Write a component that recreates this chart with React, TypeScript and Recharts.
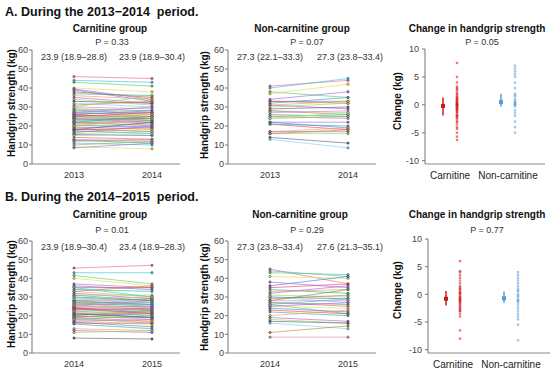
import React from "react";
import { LineChart, Line, ScatterChart, Scatter, XAxis, YAxis, ErrorBar } from "recharts";

const FONT = "'Liberation Sans', Arial, sans-serif";
const PALETTE = [
  "#f06a8a", "#3fc1d8", "#5cc96b", "#e8d94a", "#a46be0", "#4f7fe0",
  "#e04a4a", "#3aa99f", "#f0a050", "#c05ad0", "#90d860", "#606080",
  "#7fd0f0", "#c08040", "#e080c0", "#50a050",
];

// A: 2013 -> 2014
const YEARS_A = ["2013", "2014"];
const CARN_A_START = [46, 44, 43, 40, 39.5, 39, 38, 37, 36, 35, 34, 33, 32, 31, 30, 29, 28.5, 28, 27.5, 27, 26.5, 26, 25.5, 25, 24.5, 24, 24, 23.5, 23, 22.5, 22, 21.5, 21, 20.5, 20, 19.5, 19, 18.5, 18, 17.5, 17, 16.5, 16, 15.5, 15, 14, 13, 12.5, 12, 11, 10, 9, 8.5, 26, 25, 22, 20, 27, 30, 18];
const CARN_A_END = [45, 43, 41, 38, 34, 33, 35, 36, 34, 32, 31, 32, 30, 33, 29, 28, 26, 27, 25, 26, 27, 24, 25, 23, 26, 22, 25, 24, 21, 24, 20, 23, 22, 19, 21, 18, 20, 17, 19, 16, 18, 20, 17, 15, 16, 13, 12, 11, 13, 10, 12, 8, 11, 28, 27, 25, 24, 30, 36, 22];
const NON_A_START = [41, 40, 38, 37, 34, 33, 33, 32, 31, 31, 30, 29, 28, 28, 27, 26, 25, 25, 24, 24, 22, 22, 21, 21, 17, 17, 16, 14, 13, 16];
const NON_A_END = [44, 45, 35, 42, 38, 33, 32, 35, 33, 29, 32, 30, 27, 26, 28, 25, 24, 26, 25, 27, 22, 19, 18, 20, 19, 17, 16, 11, 8.5, 18];
const CARN_A_CHANGE = [7.5, 5, 4, 3.3, 3, 2.8, 2.5, 2, 2, 1.5, 1.5, 1, 1, 0.7, 0.5, 0.3, 0, 0, 0, -0.2, -0.5, -0.5, -0.8, -1, -1, -1.3, -1.5, -2, -2, -2.3, -2.5, -3, -3, -3.5, -4, -4.3, -5, -5.7, -6.3, 0.2, -0.3, 0.6, -1.8, 1.2, -0.7, 0.1];
const NON_A_CHANGE = [7, 6.5, 6, 5.5, 5, 4, 3, 2, 1.7, 1.5, 1, 0.7, 0.5, 0.3, 0, 0, -0.3, -1, -1.5, -2, -3, -4, -5, 0.2];
const CARN_A_MEAN = [-0.2, -1.9, 1.3]; // mean, lower, upper
const NON_A_MEAN = [0.5, -0.3, 2];

// B: 2014 -> 2015
const YEARS_B = ["2014", "2015"];
const CARN_B_START = [45.5, 43, 41.5, 40, 37, 36, 35, 34, 33, 32, 31, 30, 29, 28, 27.5, 27, 26.5, 26, 25.5, 25, 24.5, 24, 24, 23.5, 23, 22.5, 22, 21.5, 21, 20.5, 20, 19.5, 19, 18.5, 18, 17.5, 17, 16.5, 16, 15.5, 13, 12, 11, 8, 30, 33, 26, 20, 25, 35, 27, 22, 19, 28, 24, 31, 18, 23, 29, 21];
const CARN_B_END = [47, 43, 37, 36, 35, 34, 35, 33, 30, 29, 31, 28, 27, 29, 26, 25, 24, 26, 23, 24, 25, 22, 23, 21, 24, 20, 22, 19, 20, 21, 18, 19, 17, 16, 20, 15, 18, 14, 16, 13, 12, 11, 12, 7.5, 27, 36, 29, 23, 28, 30, 27, 21, 22, 26, 21, 28, 17, 24, 30, 19];
const NON_B_START = [45, 44, 43, 41, 38, 36, 35, 34, 33, 32, 31, 30, 30, 29, 28, 27, 27, 26, 26, 25, 25, 24, 23, 22, 20, 19, 18, 17, 16, 11, 8.5, 28];
const NON_B_END = [37, 41, 42, 40, 35, 41, 37, 32, 34, 36, 30, 29, 27, 31, 28, 26, 25, 29, 21, 24, 27, 22, 21, 20, 23, 17, 16, 16, 13, 14.5, 8.5, 34];
const CARN_B_CHANGE = [6, 4.2, 4, 3.5, 3, 2.5, 2, 1.5, 1, 0.8, 0.5, 0.2, 0, -0.3, -0.5, -0.8, -1, -1, -1.2, -1.5, -1.8, -2, -2.3, -2.5, -3, -3, -3.5, -4, -6.5, -8, -0.6, -1.4, 0.3, -2.7, 1.2];
const NON_B_CHANGE = [4, 3.5, 3, 2.5, 2, 1.5, 1, 0.5, 0, -0.5, -1, -1, -1.5, -2, -2.5, -3, -3.5, -4, -4.5, -5.5, -8.3, 0.7, -0.2, -1.2];
const CARN_B_MEAN = [-0.8, -2, 0.6];
const NON_B_MEAN = [-0.7, -1.5, 0.5];

const GRIP_TICKS = [0, 10, 20, 30, 40, 50, 60];
const CHANGE_TICKS = [-10, -5, 0, 5, 10];
const GROUPS = ["Carnitine", "Non-carnitine"];
// x slots on the change axis: mean, points, label (per group)
const SLOT = { carnMean: 18, carnPts: 32, carnLabel: 25, nonMean: 76, nonPts: 90, nonLabel: 83 };

function Txt({ x, y, size = 9, bold = false, rotate = false, children }: any) {
  return (
    <div
      style={{
        position: "absolute",
        left: x,
        top: y,
        transform: `translate(-50%, -50%)${rotate ? " rotate(-90deg)" : ""}`,
        whiteSpace: "nowrap",
        fontSize: size,
        fontWeight: bold ? 700 : 400,
        color: bold ? "#111" : "#333",
        fontFamily: FONT,
        lineHeight: 1,
      }}
    >
      {children}
    </div>
  );
}

function PairPanel({ axisX, top, plotW, plotH, years, start, end }: any) {
  const data = years.map((year: string, j: number) => {
    const row: any = { year };
    (j === 0 ? start : end).forEach((v: number, i: number) => (row[`s${i}`] = v));
    return row;
  });
  const yw = 22;
  return (
    <div style={{ position: "absolute", left: axisX - yw, top: top - 6 }}>
      <LineChart width={yw + plotW + 4} height={plotH + 22} data={data} margin={{ top: 6, right: 4, left: 0, bottom: 0 }}>
        <XAxis dataKey="year" height={16} padding={{ left: 42, right: 28 }} tickLine={false}
          axisLine={{ stroke: "#888" }} tick={{ fontSize: 9, fill: "#333" }} />
        <YAxis width={yw} domain={[0, 60]} ticks={GRIP_TICKS} tickSize={3} tickMargin={1}
          axisLine={{ stroke: "#777" }} tickLine={{ stroke: "#777" }} tick={{ fontSize: 9, fill: "#444" }} />
        {start.map((_: number, i: number) => {
          const c = PALETTE[i % PALETTE.length];
          return (
            <Line key={i} dataKey={`s${i}`} stroke={c} strokeWidth={0.8} strokeOpacity={0.8}
              dot={{ r: 1.2, fill: c, stroke: "#333", strokeWidth: 0.5 }} isAnimationActive={false} />
          );
        })}
      </LineChart>
    </div>
  );
}

const Square = (size: number, color: string, opacity: number) => (props: any) => (
  <rect x={props.cx - size / 2} y={props.cy - size / 2} width={size} height={size} fill={color} fillOpacity={opacity} />
);

function ChangePanel({ axisX, top, plotW, plotH, carn, non, carnMean, nonMean }: any) {
  const yw = 24;
  const red = "#d01818";
  const blue = "#5b9bd5";
  const carnPts = carn.map((v: number) => ({ x: SLOT.carnPts, y: v }));
  const nonPts = non.map((v: number) => ({ x: SLOT.nonPts, y: v }));
  const cm = [{ x: SLOT.carnMean, y: carnMean[0], err: [carnMean[0] - carnMean[1], carnMean[2] - carnMean[0]] }];
  const nm = [{ x: SLOT.nonMean, y: nonMean[0], err: [nonMean[0] - nonMean[1], nonMean[2] - nonMean[0]] }];
  return (
    <div style={{ position: "absolute", left: axisX - yw, top: top - 6 }}>
      <ScatterChart width={yw + plotW + 4} height={plotH + 22} margin={{ top: 6, right: 4, left: 0, bottom: 0 }}>
        <XAxis type="number" dataKey="x" domain={[0, plotW]} height={16} ticks={[SLOT.carnLabel, SLOT.nonLabel]}
          tickFormatter={(v: number) => (v === SLOT.carnLabel ? GROUPS[0] : GROUPS[1])}
          tickLine={false} axisLine={{ stroke: "#888" }} tick={{ fontSize: 10, fill: "#222" }} />
        <YAxis type="number" dataKey="y" width={yw} domain={[-10.6, 10]} ticks={CHANGE_TICKS} tickSize={3} tickMargin={3}
          axisLine={{ stroke: "#777" }} tickLine={{ stroke: "#777" }} tick={{ fontSize: 9, fill: "#444" }} />
        <Scatter data={carnPts} shape={Square(2.4, red, 0.55)} isAnimationActive={false} />
        <Scatter data={nonPts} shape={Square(2.4, blue, 0.55)} isAnimationActive={false} />
        <Scatter data={cm} shape={Square(4, red, 1)} isAnimationActive={false}>
          <ErrorBar dataKey="err" direction="y" width={0} stroke={red} strokeWidth={1.5} />
        </Scatter>
        <Scatter data={nm} shape={Square(4, blue, 1)} isAnimationActive={false}>
          <ErrorBar dataKey="err" direction="y" width={0} stroke={blue} strokeWidth={1.5} />
        </Scatter>
      </ScatterChart>
    </div>
  );
}

export default function App() {
  return (
    <div style={{ position: "absolute", left: 0, top: 0, width: 550, height: 371, background: "#fff", fontFamily: FONT, overflow: "hidden" }}>
      {/* Row A */}
      <div style={{ position: "absolute", left: 5, top: 5, fontSize: 12.5, fontWeight: 700, fontFamily: FONT, whiteSpace: "pre", color: "#111" }}>
        A. During the 2013−2014  period.
      </div>
      <Txt x={110} y={29} size={10} bold>Carnitine group</Txt>
      <Txt x={112} y={42}>P = 0.33</Txt>
      <Txt x={74} y={57}>23.9 (18.9–28.8)</Txt>
      <Txt x={152} y={57}>23.9 (18.9–30.4)</Txt>
      <Txt x={12} y={103} size={10} bold rotate>Handgrip strength (kg)</Txt>
      <PairPanel axisX={32} top={50} plotW={148} plotH={114} years={YEARS_A} start={CARN_A_START} end={CARN_A_END} />

      <Txt x={302} y={29} size={10} bold>Non-carnitine group</Txt>
      <Txt x={307} y={42}>P = 0.07</Txt>
      <Txt x={270} y={57}>27.3 (22.1–33.3)</Txt>
      <Txt x={350} y={57}>27.3 (23.8–33.4)</Txt>
      <Txt x={205} y={105} size={10} bold rotate>Handgrip strength (kg)</Txt>
      <PairPanel axisX={228} top={50} plotW={148} plotH={114} years={YEARS_A} start={NON_A_START} end={NON_A_END} />

      <Txt x={477} y={29} size={10} bold>Change in handgrip strength</Txt>
      <Txt x={482} y={42}>P = 0.05</Txt>
      <Txt x={398} y={101} size={10} bold rotate>Change (kg)</Txt>
      <ChangePanel axisX={425} top={49} plotW={120} plotH={115} carn={CARN_A_CHANGE} non={NON_A_CHANGE} carnMean={CARN_A_MEAN} nonMean={NON_A_MEAN} />

      {/* Row B */}
      <div style={{ position: "absolute", left: 5, top: 190, fontSize: 12.5, fontWeight: 700, fontFamily: FONT, whiteSpace: "pre", color: "#111" }}>
        B. During the 2014−2015  period.
      </div>
      <Txt x={110} y={215} size={10} bold>Carnitine group</Txt>
      <Txt x={112} y={230}>P = 0.01</Txt>
      <Txt x={74} y={247}>23.9 (18.9–30.4)</Txt>
      <Txt x={152} y={247}>23.4 (18.9–28.3)</Txt>
      <Txt x={12} y={294} size={10} bold rotate>Handgrip strength (kg)</Txt>
      <PairPanel axisX={32} top={241} plotW={148} plotH={112} years={YEARS_B} start={CARN_B_START} end={CARN_B_END} />

      <Txt x={300} y={215} size={10} bold>Non-carnitine group</Txt>
      <Txt x={307} y={230}>P = 0.29</Txt>
      <Txt x={270} y={247}>27.3 (23.8–33.4)</Txt>
      <Txt x={350} y={247}>27.6 (21.3–35.1)</Txt>
      <Txt x={205} y={297} size={10} bold rotate>Handgrip strength (kg)</Txt>
      <PairPanel axisX={228} top={241} plotW={148} plotH={112} years={YEARS_B} start={NON_B_START} end={NON_B_END} />

      <Txt x={477} y={215} size={10} bold>Change in handgrip strength</Txt>
      <Txt x={487} y={230}>P = 0.77</Txt>
      <Txt x={398} y={290} size={10} bold rotate>Change (kg)</Txt>
      <ChangePanel axisX={428} top={239} plotW={122} plotH={114} carn={CARN_B_CHANGE} non={NON_B_CHANGE} carnMean={CARN_B_MEAN} nonMean={NON_B_MEAN} />
    </div>
  );
}
